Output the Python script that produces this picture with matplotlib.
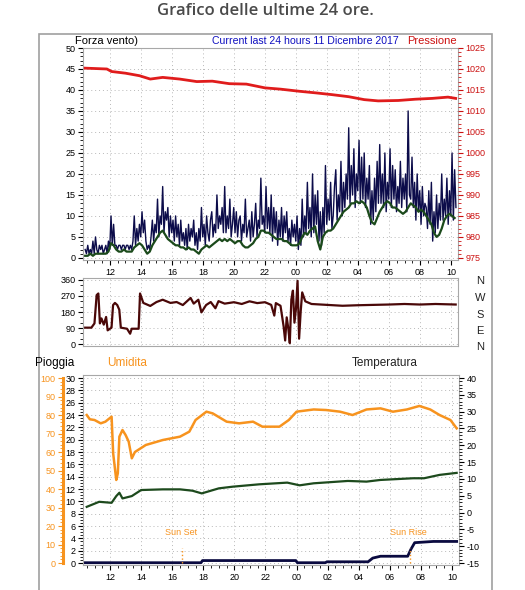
import matplotlib
matplotlib.use("Agg")
import matplotlib.pyplot as plt
import matplotlib.ticker as tkr
from matplotlib.patches import Rectangle

plt.rcParams['font.family'] = ['Liberation Sans', 'DejaVu Sans']
plt.rcParams['axes.unicode_minus'] = False

# wind gust, 5 minute samples starting at 10:24 (hours counted from midnight of day 1)
gust_start = 10.4
wind_gust = [
    2, 1, 3, 1, 2, 1, 4, 1, 5, 2, 1, 3,
    2, 3, 1, 2, 3, 1, 4, 2, 10, 3, 8, 3,
    3, 2, 3, 3, 2, 3, 3, 2, 3, 3, 2, 3,
    2, 4, 10, 3, 7, 4, 8, 5, 11, 6, 9, 4,
    2, 3, 2, 5, 9, 4, 8, 6, 14, 5, 10, 8,
    17, 6, 11, 9, 12, 5, 10, 6, 9, 4, 10, 5,
    8, 3, 9, 4, 6, 3, 7, 2, 8, 4, 7, 5,
    9, 3, 6, 2, 7, 4, 12, 5, 8, 3, 10, 6,
    4, 9, 11, 5, 8, 6, 15, 7, 10, 8, 12, 6,
    17, 6, 10, 7, 14, 5, 8, 12, 6, 11, 5, 9,
    10, 4, 8, 6, 14, 5, 7, 9, 4, 11, 5, 8,
    13, 5, 9, 7, 19, 8, 10, 6, 17, 7, 12, 6,
    15, 4, 12, 6, 11, 3, 9, 5, 12, 4, 10, 6,
    11, 4, 7, 3, 9, 5, 8, 4, 10, 2, 7, 3,
    14, 5, 10, 6, 18, 7, 12, 5, 20, 6, 15, 8,
    16, 4, 11, 3, 12, 6, 22, 8, 14, 9, 18, 7,
    10, 17, 21, 9, 15, 11, 23, 10, 18, 12, 20, 14,
    31, 13, 22, 15, 26, 12, 20, 16, 28, 13, 24, 14,
    25, 12, 19, 14, 22, 8, 16, 9, 19, 11, 23, 13,
    27, 13, 20, 12, 25, 11, 18, 14, 26, 12, 22, 14,
    21, 11, 17, 13, 23, 12, 19, 14, 20, 11, 35, 15,
    14, 24, 12, 18, 9, 20, 11, 16, 8, 17, 10, 13,
    12, 7, 16, 8, 18, 4, 11, 6, 15, 7, 13, 9,
    20, 9, 14, 10, 19, 8, 16, 10, 25, 9, 21, 12,
]
# average wind, 10 minute samples
avg_start = 10.4
wind_avg = [
    0.5, 0.5, 1, 0.5, 1, 1,
    1, 1, 1, 1.5, 3.5, 3,
    2, 1.5, 1.5, 2, 1.5, 1.5,
    1.5, 2.5, 3, 3.5, 3, 2,
    1, 1.5, 3, 4, 5, 6,
    6.5, 5.5, 4.5, 4, 3.5, 3,
    3, 2.5, 2.5, 2, 2.5, 2,
    2, 1.5, 1, 2, 2.5, 3,
    2.5, 3, 3.5, 4, 4.5, 4,
    4.5, 4, 4.5, 4, 3.5, 4,
    4, 3, 2.5, 2.5, 3, 3.5,
    4.5, 5, 6.5, 6.5, 6, 6,
    5.5, 5, 4.5, 4.5, 4.5, 4,
    4, 3.5, 3, 3, 3, 3.5,
    5, 6, 5.5, 6.5, 7, 7.5,
    4, 2, 5, 6, 6.5, 6.5,
    7, 8, 9, 10, 11, 11.5,
    12, 13, 13, 13.5, 13, 13.5,
    13, 12, 10, 8.5, 8, 9.5,
    11, 12, 13, 13.5, 13, 12,
    12, 11.5, 11, 10.5, 11, 12,
    13, 12.5, 12, 11, 11.5, 11,
    10, 9, 8, 6, 5, 5.5,
    7, 9, 10, 10.5, 10, 9.5,
]
gust_hours = [gust_start + i / 12 for i in range(len(wind_gust))]
avg_hours = [avg_start + i / 6 for i in range(len(wind_avg))]

press_hours = [10.4, 11.8, 12.1, 13.0, 13.9, 14.6, 15.4, 16.5, 17.6, 18.6, 19.7, 20.8,
               22.0, 23.0, 24.2, 25.3, 26.3, 27.4, 28.4, 29.3, 30.6, 31.7, 32.8, 33.8, 34.3]
press_vals = [1020.2, 1020.0, 1019.4, 1019.0, 1018.4, 1017.6, 1018.0, 1017.6, 1017.0, 1017.1,
              1016.5, 1016.4, 1015.5, 1015.2, 1014.7, 1014.3, 1013.9, 1013.4, 1012.7, 1012.4,
              1012.5, 1012.8, 1013.0, 1013.3, 1013.0]

dir_hours = [10.4, 10.8, 11.0, 11.14, 11.25, 11.35, 11.45, 11.6, 11.75, 11.85, 12.0, 12.1,
             12.2, 12.32, 12.47, 12.6, 12.7, 13.1, 13.3, 13.4, 13.85, 13.94, 14.15, 14.6,
             15.0, 15.4, 15.9, 16.3, 16.7, 17.2, 17.4, 17.7, 17.9, 18.2, 18.5, 18.8, 19.0,
             19.4, 19.7, 20.0, 20.5, 21.0, 21.5, 22.0, 22.4, 22.6, 22.7, 23.0, 23.2, 23.3,
             23.4, 23.5, 23.6, 23.7, 23.8, 23.9, 24.0, 24.1, 24.2, 24.3, 24.4, 24.6, 25.0,
             26.0, 27.0, 28.0, 29.0, 30.0, 31.0, 32.0, 33.0, 34.3]
dir_vals = [92, 92, 116, 275, 284, 116, 144, 109, 152, 77, 86, 92,
            219, 231, 219, 193, 92, 86, 58, 86, 86, 284, 231, 214,
            236, 249, 231, 236, 219, 259, 227, 249, 178, 219, 236, 201, 241,
            227, 231, 235, 225, 240, 230, 235, 220, 160, 230, 215, 100, 20,
            150, 90, 5, 250, 300, 120, 200, 355, 30, 180, 290, 240, 225,
            220, 215, 218, 220, 222, 225, 222, 225, 222]

hum_hours = [10.5, 10.7, 11.0, 11.4, 11.7, 12.1, 12.2, 12.4, 12.5, 12.6, 12.8, 13.0, 13.2,
             13.4, 13.6, 14.3, 15.4, 16.5, 17.1, 17.5, 18.2, 18.6, 19.5, 20.3, 21.2, 21.8,
             22.9, 23.5, 24.0, 25.1, 25.9, 26.8, 27.6, 28.5, 29.4, 30.2, 31.1, 31.9, 32.6,
             33.2, 33.9, 34.3]
hum_vals = [80, 77.7, 77.3, 75.5, 76.4, 79.1, 59.3, 44.9, 48.5, 68.3, 71.9, 69.2, 65.6,
            56.6, 60, 63.8, 66.5, 68.3, 71, 77.3, 81.8, 80.9, 76.4, 75.5, 76.4, 73.7,
            73.7, 77.3, 81.8, 83, 82.7, 81.8, 80, 83, 83.6, 81.8, 83, 84.9, 83,
            80, 77.3, 72.8]

temp_hours = [10.5, 11.3, 12.1, 12.4, 12.6, 12.8, 13.4, 14.0, 15.4, 16.5, 17.3, 17.9, 19.0,
              19.9, 21.6, 23.4, 24.2, 25.1, 27.3, 28.5, 29.4, 31.5, 32.2, 33.2, 34.3]
temp_vals = [1.7, 3.2, 2.9, 4.9, 5.9, 4.2, 4.9, 6.7, 6.9, 6.9, 6.5, 5.7, 7.2,
             7.7, 8.4, 8.9, 8.1, 8.7, 9.4, 9.2, 9.7, 10.2, 10.2, 11.2, 11.8]

rain_hours = [10.4, 17.85, 17.95, 23.95, 24.05, 25.85, 25.95, 28.6, 28.9, 29.4, 31.15,
              31.35, 31.6, 32.8, 34.3]
rain_vals = [0.05, 0.05, 0.4, 0.4, 0.05, 0.05, 0.2, 0.2, 0.8, 1.1, 1.1, 2.2, 3.3, 3.5, 3.5]

sunset = 16.6
sunrise = 31.3

W, H = 525, 590
fig = plt.figure(figsize=(W / 100, H / 100), dpi=100)
fig.patch.set_facecolor('white')


def box(left, top, right, bottom):
    return [left / W, 1 - bottom / H, (right - left) / W, (bottom - top) / H]


fig.patches.append(Rectangle((39 / W, -0.05), 453 / W, 1.05 - 34 / H, transform=fig.transFigure,
                             fill=False, edgecolor='#a0a0a0', linewidth=1.2))
fig.text(0.505, 0.982, "Grafico delle ultime 24 ore.", ha='center', va='center',
         fontsize=12, color='#4a4a4a', fontweight='semibold', family=['Open Sans', 'DejaVu Sans'])

grid_kw = dict(linestyle=(0, (1, 3)), color='#b8b8b8', linewidth=0.7)
time_ticks = list(range(12, 35, 2))
time_labels = ["%02d" % (h % 24) for h in time_ticks]
xlo, xhi = 10.26, 34.45


def style(ax):
    for s in ax.spines.values():
        s.set_color('#a8a8a8')
    ax.tick_params(which='both', direction='out', labelsize=6.5, color='black', pad=2)
    ax.tick_params(which='major', length=3.5)
    ax.tick_params(which='minor', length=2)
    ax.set_xlim(xlo, xhi)
    ax.set_xticks(time_ticks)
    ax.set_xticklabels(time_labels)
    ax.xaxis.set_minor_locator(tkr.MultipleLocator(0.5))
    ax.grid(True, which='major', **grid_kw)
    ax.set_axisbelow(True)


# top panel: wind speed and pressure
ax1 = fig.add_axes(box(83, 48, 458, 260))
style(ax1)
ax1.set_ylim(-0.5, 50)
ax1.yaxis.set_major_locator(tkr.MultipleLocator(5))
ax1.yaxis.set_minor_locator(tkr.MultipleLocator(1))
ax1.plot(gust_hours, wind_gust, color='#0c0c4a', linewidth=1.0)
ax1.plot(avg_hours, wind_avg, color='#1b4a1b', linewidth=1.6)

ax1r = ax1.twinx()
ax1r.set_ylim(974.5, 1025)
ax1r.yaxis.set_major_locator(tkr.MultipleLocator(5))
ax1r.yaxis.set_minor_locator(tkr.MultipleLocator(1))
for s in ax1r.spines.values():
    s.set_visible(False)
ax1r.tick_params(which='both', direction='out', labelsize=6.5, color='#cc1111',
                 labelcolor='#cc1111', pad=2)
ax1r.tick_params(which='major', length=3.5)
ax1r.tick_params(which='minor', length=2)
ax1r.plot(press_hours, press_vals, color='#e01c1c', linewidth=2)

fig.text(75 / W, 1 - 41 / H, "Forza vento)", fontsize=8, color='black', va='center')
fig.text(212 / W, 1 - 41 / H, "Current last 24 hours 11 Dicembre 2017", fontsize=7.6,
         color='#1010c0', va='center')
fig.text(457 / W, 1 - 41 / H, "Pressione", fontsize=8, color='#cc1111', va='center', ha='right')

# middle panel: wind direction
ax2 = fig.add_axes(box(83, 278, 458, 346))
style(ax2)
ax2.set_ylim(-11, 371)
ax2.set_yticks([0, 90, 180, 270, 360])
ax2.yaxis.set_minor_locator(tkr.MultipleLocator(30))
ax2.tick_params(axis='x', which='both', length=0, labelbottom=False)
ax2.plot(dir_hours, dir_vals, color='#4a0808', linewidth=1.6)
for lab, yy in zip(["N", "W", "S", "E", "N"], [281, 298, 315, 331, 347]):
    fig.text(480 / W, 1 - yy / H, lab, fontsize=8, color='#222222', ha='center', va='center')

# bottom panel: rain, humidity, temperature
ax3 = fig.add_axes(box(83, 375, 459, 565))
style(ax3)
ax3.set_ylim(-0.32, 30.49)
ax3.yaxis.set_major_locator(tkr.MultipleLocator(2))
ax3.yaxis.set_minor_locator(tkr.MultipleLocator(0.5))
ax3.plot(rain_hours, rain_vals, color='#0a0a40', linewidth=2)

ax3t = ax3.twinx()
ax3t.set_ylim(-15.59, 40.9)
ax3t.yaxis.set_major_locator(tkr.MultipleLocator(5))
ax3t.yaxis.set_minor_locator(tkr.MultipleLocator(1))
for s in ax3t.spines.values():
    s.set_visible(False)
ax3t.tick_params(which='both', direction='out', labelsize=6.5, color='black', pad=2)
ax3t.tick_params(which='major', length=3.5)
ax3t.tick_params(which='minor', length=2)
ax3t.plot(temp_hours, temp_vals, color='#1d4a1d', linewidth=1.6)

ax3h = ax3.twinx()
ax3h.set_ylim(-1.07, 101.63)
for s in ax3h.spines.values():
    s.set_visible(False)
ax3h.spines['left'].set_visible(True)
ax3h.spines['left'].set_position(('axes', -20 / 376))
ax3h.spines['left'].set_bounds(0, 100)
ax3h.spines['left'].set_color('#f7931e')
ax3h.spines['left'].set_linewidth(2.2)
ax3h.yaxis.tick_left()
ax3h.yaxis.set_major_locator(tkr.MultipleLocator(10))
ax3h.yaxis.set_minor_locator(tkr.MultipleLocator(2))
ax3h.tick_params(which='both', direction='out', labelsize=6.5, color='#f7931e',
                 labelcolor='#f7931e', pad=2)
ax3h.tick_params(which='major', length=3.5)
ax3h.tick_params(which='minor', length=2)
ax3h.plot(hum_hours, hum_vals, color='#f7931e', linewidth=1.8)

ax3.plot([sunset, sunset], [0, 2.4], color='#f7931e', linestyle=':', linewidth=1)
ax3.plot([sunrise, sunrise], [0, 2.4], color='#f7931e', linestyle=':', linewidth=1)
ax3.text(sunset, 4.9, "Sun Set", fontsize=6.5, color='#f7931e', ha='center', va='center')
ax3.text(sunrise - 0.1, 4.9, "Sun Rise", fontsize=6.5, color='#f7931e', ha='center', va='center')

fig.text(35 / W, 1 - 363 / H, "Pioggia", fontsize=8.5, color='black', va='center')
fig.text(107 / W, 1 - 363 / H, "Umidita", fontsize=8.5, color='#f7931e', va='center')
fig.text(352 / W, 1 - 363 / H, "Temperatura", fontsize=8.5, color='#222222', va='center')

fig.savefig("out.png", dpi=100)
